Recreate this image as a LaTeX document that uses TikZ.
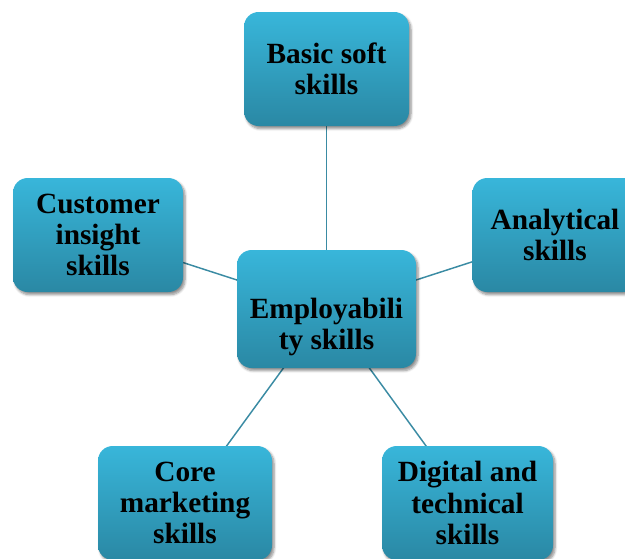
\documentclass[tikz,border=0pt]{standalone}
\usepackage{fontspec}
\setmainfont{Liberation Serif}
\usetikzlibrary{shadows.blur,backgrounds}
\definecolor{boxtop}{HTML}{38B6DA}
\definecolor{boxbot}{HTML}{2A88A4}
\definecolor{linkc}{HTML}{3A8BA3}
\tikzset{
  skillbox/.style={rectangle, rounded corners=11pt, top color=boxtop, bottom color=boxbot,
    draw=none, align=center, inner sep=0pt,
    font=\fontsize{22}{23.5}\selectfont\bfseries,
    blur shadow={shadow xshift=1.5pt, shadow yshift=-2pt, shadow blur steps=6, shadow opacity=45}},
  link/.style={draw=linkc, line width=1.1pt}
}
\begin{document}
\begin{tikzpicture}[x=0.75pt,y=-0.75pt]
\useasboundingbox (0,0) rectangle (625,558);
\node[skillbox, minimum width=134.25pt, minimum height=88.5pt] (emp) at (326.5,309)
  {\raisebox{-14pt}[\height][\depth]{\begin{tabular}{@{}c@{}}Employabili\\ty skills\end{tabular}}};
\node[skillbox, minimum width=123.75pt, minimum height=85.5pt] (basic) at (326.5,69) {Basic soft\\skills};
\node[skillbox, minimum width=127.5pt, minimum height=85.5pt] (cust) at (98,235) {Customer\\insight\\skills};
\node[skillbox, minimum width=123.75pt, minimum height=85.5pt] (anal) at (555,235) {Analytical\\skills};
\node[skillbox, minimum width=130.5pt, minimum height=85.5pt] (core) at (185,503) {Core\\marketing\\skills};
\node[skillbox, minimum width=128.25pt, minimum height=85.5pt] (digi) at (467.5,503) {Digital and\\technical\\skills};
\begin{scope}[on background layer]
\draw[link] (emp.center) -- (basic.center);
\draw[link] (emp.center) -- (cust.center);
\draw[link] (emp.center) -- (anal.center);
\draw[link] (emp.center) -- (core.center);
\draw[link] (emp.center) -- (digi.center);
\end{scope}
\end{tikzpicture}
\end{document}
